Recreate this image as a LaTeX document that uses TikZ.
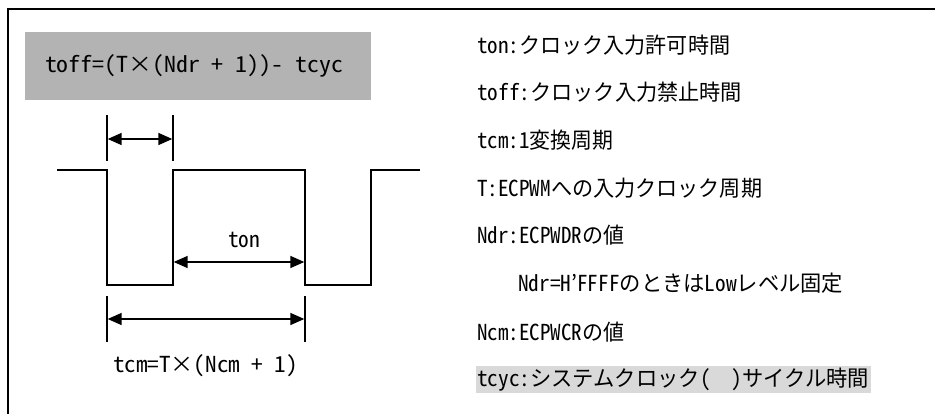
\documentclass[tikz,border=0pt]{standalone}
\usepackage{graphicx}
\usepackage{fontspec}
\setmainfont{Noto Sans CJK JP}[RawFeature={+hwid;-liga}]
\usetikzlibrary{arrows.meta}
\newcommand{\fitto}[2]{\resizebox{#1}{\height}{#2}}
\tikzset{
  wave/.style={line width=1.6pt, line join=miter},
  tick/.style={line width=1.4pt},
  dim/.style={line width=1.6pt, {Triangle[length=14pt,width=12pt]}-{Triangle[length=14pt,width=12pt]}, shorten <=0.7pt, shorten >=0.7pt},
  legend/.style={anchor=west, inner sep=0pt, font=\fontsize{22}{24}\selectfont},
  lbl/.style={inner sep=0pt, font=\fontsize{22}{24}\selectfont},
}
\begin{document}
\begin{tikzpicture}[x=1pt,y=-1pt]
\useasboundingbox (0,0) rectangle (935,414);
% frame (only top and left visible)
\coordinate (fbl) at (8,414);
\coordinate (ftl) at (8,9);
\coordinate (ftr) at (935,9);
\draw[line width=2pt] (fbl) -- (ftl) -- (ftr);
% formula box
\node[fill={rgb,255:red,179;green,179;blue,179}, minimum width=346pt, minimum height=68pt, inner sep=0pt, anchor=north west] (fbox) at (25,32) {};
\node[lbl] (formula) at (194,66) {\fitto{298pt}{toff=(T×(Ndr + 1))- tcyc}};
% waveform
\coordinate (w0) at (57,170);
\coordinate (w1) at (107,170);
\coordinate (w2) at (107,285);
\coordinate (w3) at (173,285);
\coordinate (w4) at (173,170);
\coordinate (w5) at (305,170);
\coordinate (w6) at (305,285);
\coordinate (w7) at (371,285);
\coordinate (w8) at (371,170);
\coordinate (w9) at (420,170);
\draw[wave] (w0) -- (w1) -- (w2) -- (w3) -- (w4) -- (w5) -- (w6) -- (w7) -- (w8) -- (w9);
% toff dimension
\coordinate (t1a) at (107,115); \coordinate (t1b) at (107,161);
\coordinate (t2a) at (173,115); \coordinate (t2b) at (173,161);
\draw[tick] (t1a) -- (t1b);
\draw[tick] (t2a) -- (t2b);
\coordinate (toffL) at (107,139); \coordinate (toffR) at (173,139);
\draw[dim] (toffL) -- (toffR);
% ton dimension
\coordinate (tonL) at (173,262); \coordinate (tonR) at (305,262);
\draw[dim] (tonL) -- (tonR);
\node[lbl] (ton) at (244,240) {\fitto{32pt}{ton}};
% tcm dimension
\coordinate (c1a) at (107,296); \coordinate (c1b) at (107,342);
\coordinate (c2a) at (305,296); \coordinate (c2b) at (305,342);
\draw[tick] (c1a) -- (c1b);
\draw[tick] (c2a) -- (c2b);
\coordinate (tcmL) at (107,319); \coordinate (tcmR) at (305,319);
\draw[dim] (tcmL) -- (tcmR);
\node[lbl] (tcm) at (205.5,366) {\fitto{185pt}{tcm=T×(Ncm + 1)}};
% legend
\node[legend] (l1) at (477,45) {\fitto{253pt}{ton:クロック入力許可時間}};
\node[legend] (l2) at (477,92) {\fitto{265pt}{toff:クロック入力禁止時間}};
\node[legend] (l3) at (477,140) {\fitto{136pt}{tcm:1変換周期}};
\node[legend] (l4) at (477,188) {\fitto{285pt}{T:ECPWMへの入力クロック周期}};
\node[legend] (l5) at (477,235) {\fitto{147pt}{Ndr:ECPWDRの値}};
\node[legend] (l6) at (518,283) {\fitto{325pt}{Ndr=H’FFFFのときはLowレベル固定}};
\node[legend] (l7) at (477,332) {\fitto{147pt}{Ncm:ECPWCRの値}};
\node[fill={rgb,255:red,217;green,217;blue,217}, minimum width=395pt, minimum height=27pt, inner sep=0pt, anchor=north west] (hbox) at (476,366) {};
\node[legend] (l8) at (477,380) {\fitto{392pt}{tcyc:システムクロック(\hspace{1em})サイクル時間}};
\end{tikzpicture}
\end{document}
